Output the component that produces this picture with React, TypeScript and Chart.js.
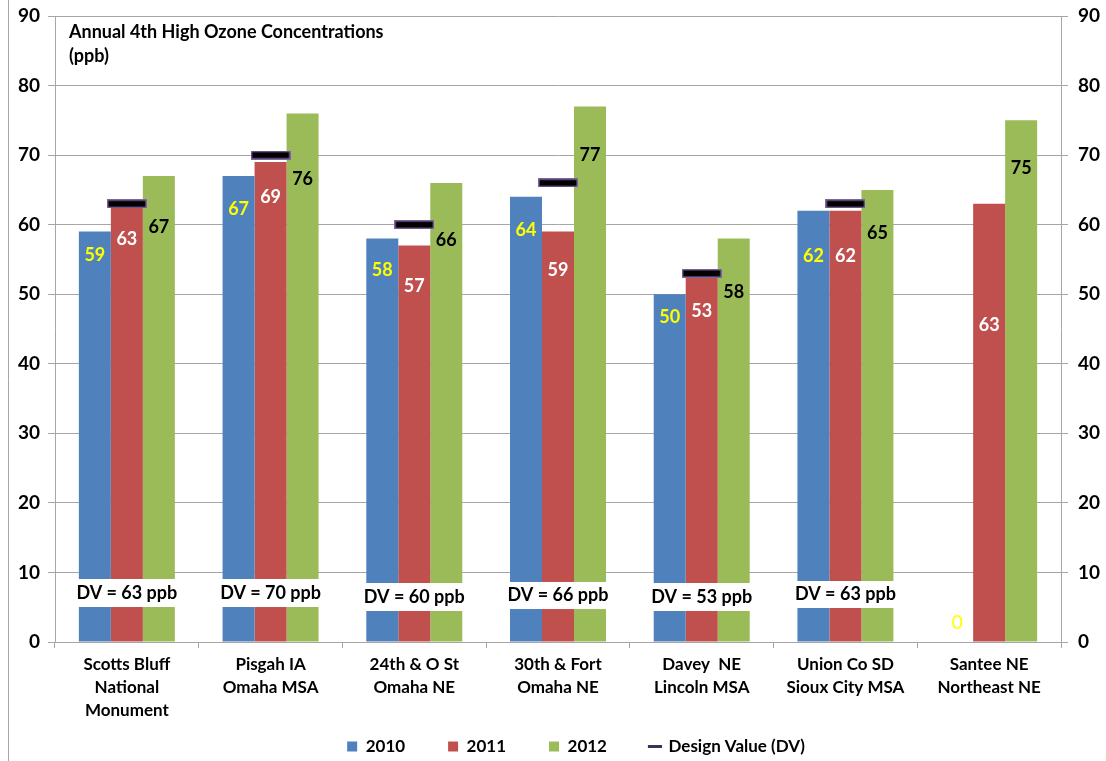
import React, { useEffect, useRef } from "react";
import { Chart, registerables } from "chart.js";

Chart.register(...registerables);

// ---------- DATA ----------
const categories: string[][] = [
  ["Scotts Bluff", "National", "Monument"],
  ["Pisgah IA", "Omaha MSA"],
  ["24th & O St", "Omaha NE"],
  ["30th & Fort", "Omaha NE"],
  ["Davey  NE", "Lincoln MSA"],
  ["Union Co SD", "Sioux City MSA"],
  ["Santee NE", "Northeast NE"],
];
const values2010: number[] = [59, 67, 58, 64, 50, 62, 0];
const values2011: number[] = [63, 69, 57, 59, 53, 62, 63];
const values2012: number[] = [67, 76, 66, 77, 58, 65, 75];
const designValues: (number | null)[] = [63, 70, 60, 66, 53, 63, null];
const dvTexts: string[] = ["DV = 63 ppb", "DV = 70 ppb", "DV = 60 ppb", "DV = 66 ppb", "DV = 53 ppb", "DV = 63 ppb", ""];
const seriesNames: string[] = ["2010", "2011", "2012", "Design Value (DV)"];
const titleLines: string[] = ["Annual 4th High Ozone Concentrations", "(ppb)"];
const yMin = 0;
const yMax = 90;
const yStep = 10;

// ---------- LAYOUT / STYLE ----------
const FONT = "Lato, 'Open Sans', sans-serif";
const barColors = ["#4F81BD", "#C0504D", "#9BBB59"];
const labelColors = ["#FFFF00", "#FFFFFF", "#000000"];
// pixel distance of each value label's centre below its bar top
const labelOffsets: number[][] = [
  [24, 33, 32, 33, 23, 45, -19],
  [35, 35, 41, 39, 38, 45, 121],
  [51, 66, 57, 49, 54, 43, 48],
];
// white "DV = .. ppb" boxes, in axis units
const dvBoxTop = [9.06, 9.06, 8.48, 8.63, 8.48, 8.77];
const dvBoxBottom = [5.03, 5.03, 4.46, 4.74, 4.46, 4.89];
const GRID = "#a6a6a6";

export default function App() {
  const canvasRef = useRef<HTMLCanvasElement | null>(null);

  useEffect(() => {
    document.body.style.margin = "0";
    const canvas = canvasRef.current;
    if (!canvas) return;

    const marker = document.createElement("canvas");
    marker.width = 40;
    marker.height = 9;
    const mctx = marker.getContext("2d")!;
    mctx.fillStyle = "#8064A2";
    mctx.fillRect(0, 0, 40, 9);
    mctx.fillStyle = "#000000";
    mctx.fillRect(1.5, 1.5, 37, 6);

    const decorPlugin = {
      id: "decor",
      afterLayout(chart: any) {
        // let the 3-line category labels extend below the axis box (not clipped)
        chart.scales.x.bottom = chart.height;
        // shift the legend row to the right, as in the reference
        chart.legend.left = 46;
      },
      beforeDraw(chart: any) {
        const ctx = chart.ctx;
        ctx.save();
        ctx.strokeStyle = GRID;
        ctx.lineWidth = 1;
        ctx.beginPath();
        ctx.moveTo(8.5, 0);
        ctx.lineTo(8.5, chart.height);
        ctx.stroke();
        ctx.restore();
      },
      afterDatasetsDraw(chart: any) {
        const ctx = chart.ctx;
        const y = chart.scales.y;
        ctx.save();
        const m0 = chart.getDatasetMeta(0);
        const m2 = chart.getDatasetMeta(2);
        ctx.textAlign = "center";
        ctx.textBaseline = "middle";
        ctx.font = `bold 18px ${FONT}`;
        for (let i = 0; i < dvBoxTop.length; i++) {
          const b0 = m0.data[i];
          const b2 = m2.data[i];
          const left = b0.x - b0.width / 2 - 2;
          const right = b2.x + b2.width / 2 + 2;
          const top = y.getPixelForValue(dvBoxTop[i]);
          const bottom = y.getPixelForValue(dvBoxBottom[i]);
          ctx.fillStyle = "#ffffff";
          ctx.fillRect(left, top, right - left, bottom - top);
          ctx.fillStyle = "#000000";
          ctx.fillText(dvTexts[i], (left + right) / 2, (top + bottom) / 2);
        }
        for (let di = 0; di < 3; di++) {
          const meta = chart.getDatasetMeta(di);
          const data = chart.data.datasets[di].data;
          meta.data.forEach((bar: any, i: number) => {
            const v = data[i];
            if (v == null) return;
            ctx.fillStyle = labelColors[di];
            ctx.font = v === 0 ? `19px ${FONT}` : `bold 18px ${FONT}`;
            ctx.fillText(String(v), bar.x, bar.y + labelOffsets[di][i]);
          });
        }
        ctx.restore();
      },
      afterDraw(chart: any) {
        const ctx = chart.ctx;
        ctx.save();
        ctx.fillStyle = "#000000";
        ctx.font = `bold 18px ${FONT}`;
        ctx.textAlign = "left";
        ctx.textBaseline = "middle";
        titleLines.forEach((t, i) => ctx.fillText(t, 69, 32 + i * 24));
        ctx.restore();
      },
    };

    const zeroPad = (s: any) => { s.paddingTop = 0; s.paddingBottom = 0; };

    const chart = new Chart(canvas, {
      type: "bar",
      data: {
        labels: categories,
        datasets: [
          { label: seriesNames[0], data: values2010, backgroundColor: barColors[0], yAxisID: "y", order: 1, categoryPercentage: 0.668, barPercentage: 1 },
          { label: seriesNames[1], data: values2011, backgroundColor: barColors[1], yAxisID: "y", order: 1, categoryPercentage: 0.668, barPercentage: 1 },
          { label: seriesNames[2], data: values2012, backgroundColor: barColors[2], yAxisID: "y", order: 1, categoryPercentage: 0.668, barPercentage: 1 },
          {
            type: "line",
            label: seriesNames[3],
            data: designValues,
            yAxisID: "y",
            order: 0,
            showLine: false,
            pointStyle: marker as any,
            pointRadius: 5,
            pointHoverRadius: 5,
            borderColor: "#000000",
            backgroundColor: "#000000",
          } as any,
        ],
      },
      options: {
        responsive: false,
        animation: false,
        devicePixelRatio: 1,
        layout: { padding: { top: 16, left: 0, right: 0, bottom: 0 } },
        plugins: {
          tooltip: { enabled: false },
          legend: {
            position: "bottom",
            maxHeight: 66,
            labels: {
              usePointStyle: true,
              boxWidth: 10,
              boxHeight: 10,
              padding: 43,
              color: "#000000",
              font: { family: FONT, size: 17, weight: "bold" },
              sort: (a: any, b: any) => a.datasetIndex - b.datasetIndex,
              generateLabels: (ch: any) => {
                const items = (Chart.defaults.plugins.legend.labels as any).generateLabels(ch);
                items.forEach((it: any) => {
                  if (it.datasetIndex === 3) {
                    it.pointStyle = "line";
                    it.strokeStyle = "#3F3151";
                    it.lineWidth = 3;
                  } else {
                    it.pointStyle = "rect";
                    it.lineWidth = 0;
                    it.strokeStyle = "rgba(0,0,0,0)";
                  }
                });
                return items;
              },
            },
          } as any,
        },
        scales: {
          x: {
            grid: { display: true, drawOnChartArea: false, drawTicks: true, tickLength: 6, color: GRID, offset: true },
            border: { color: GRID, width: 1 },
            ticks: {
              color: "#000000",
              padding: 5,
              maxRotation: 0,
              autoSkip: false,
              font: { family: FONT, size: 17, weight: "bold", lineHeight: 1.35 },
            },
            afterFit: (s: any) => { s.height = 53; },
          },
          y: {
            position: "left",
            min: yMin,
            max: yMax,
            ticks: { stepSize: yStep, color: "#000000", padding: 8, font: { family: FONT, size: 19, weight: "bold" } },
            grid: { color: GRID, tickLength: 7, lineWidth: 1 },
            border: { color: GRID, width: 1 },
            afterFit: (s: any) => { s.width = 55; zeroPad(s); },
          },
          y1: {
            position: "right",
            min: yMin,
            max: yMax,
            ticks: { stepSize: yStep, color: "#000000", padding: 10, font: { family: FONT, size: 19, weight: "bold" } },
            grid: { drawOnChartArea: false, color: GRID, tickLength: 7 },
            border: { color: GRID, width: 1 },
            afterFit: (s: any) => { s.width = 45; zeroPad(s); },
          },
        },
      },
      plugins: [decorPlugin],
    });

    return () => chart.destroy();
  }, []);

  return (
    <div style={{ position: "relative", width: 1106, height: 761, background: "#ffffff" }}>
      <canvas ref={canvasRef} width={1106} height={761} style={{ width: 1106, height: 761, display: "block" }} />
    </div>
  );
}
